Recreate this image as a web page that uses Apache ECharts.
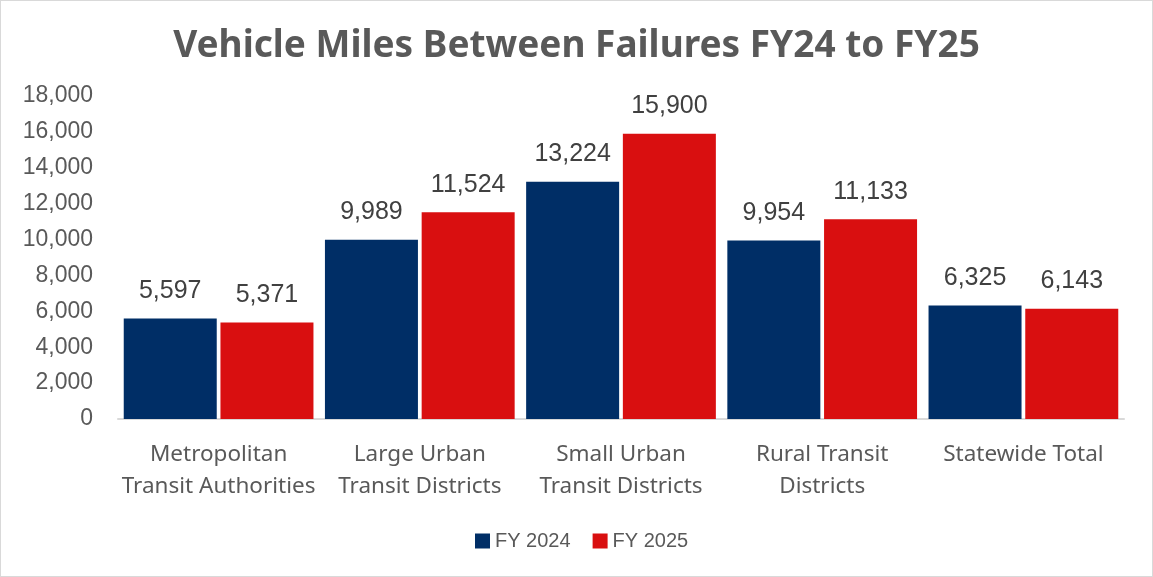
<!DOCTYPE html>
<html>
<head>
<meta charset="utf-8">
<script src="https://cdn.jsdelivr.net/npm/echarts@6/dist/echarts.min.js"></script>
<style>
  html, body { margin: 0; padding: 0; background: #fff; }
  #chart { width: 1151px; height: 575px; border: 1px solid #d9d9d9; }
</style>
</head>
<body>
<div id="chart"></div>
<script>
  var categories = [
    "Metropolitan\nTransit Authorities",
    "Large Urban\nTransit Districts",
    "Small Urban\nTransit Districts",
    "Rural Transit\nDistricts",
    "Statewide Total"
  ];
  var fy2024 = [5597, 9989, 13224, 9954, 6325];
  var fy2025 = [5371, 11524, 15900, 11133, 6143];

  var myChart = echarts.init(document.getElementById("chart"));
  var font = "Noto Sans";
  var numFont = "Liberation Sans";

  function fmt(p) {
    return p.value.toLocaleString("en-US");
  }

  var option = {
    animation: false,
    title: {
      text: "Vehicle Miles Between Failures FY24 to FY25",
      left: "center",
      top: 22,
      textStyle: {
        fontFamily: font,
        fontSize: 37,
        fontWeight: "bold",
        color: "#595959"
      }
    },
    legend: {
      bottom: 20,
      left: 469,
      itemWidth: 15,
      itemHeight: 15,
      itemGap: 22,
      icon: "rect",
      textStyle: { fontFamily: numFont, fontSize: 20, color: "#595959" },
      data: ["FY 2024", "FY 2025"]
    },
    grid: {
      left: 117,
      right: 28,
      top: 95,
      bottom: 157
    },
    xAxis: {
      type: "category",
      data: categories,
      axisTick: { show: false },
      axisLine: { lineStyle: { color: "#d9d9d9", width: 2 } },
      axisLabel: {
        interval: 0,
        fontFamily: font,
        fontSize: 22.5,
        color: "#595959",
        lineHeight: 32,
        margin: 20
      }
    },
    yAxis: {
      type: "value",
      min: 0,
      max: 18000,
      interval: 2000,
      splitLine: { show: false },
      axisLabel: {
        fontFamily: numFont,
        fontSize: 23,
        color: "#595959",
        margin: 25,
        formatter: function (v) {
          return v.toLocaleString("en-US");
        }
      }
    },
    series: [
      {
        name: "FY 2024",
        type: "bar",
        data: fy2024,
        barWidth: 93,
        barGap: "4%",
        itemStyle: { color: "#002E66" },
        label: {
          show: true,
          position: "top",
          distance: 15,
          fontFamily: numFont,
          fontSize: 25,
          color: "#404040",
          formatter: fmt
        }
      },
      {
        name: "FY 2025",
        type: "bar",
        data: fy2025,
        barWidth: 93,
        itemStyle: { color: "#D90F10" },
        label: {
          show: true,
          position: "top",
          distance: 15,
          fontFamily: numFont,
          fontSize: 25,
          color: "#404040",
          formatter: fmt
        }
      }
    ]
  };

  myChart.setOption(option);
</script>
</body>
</html>
